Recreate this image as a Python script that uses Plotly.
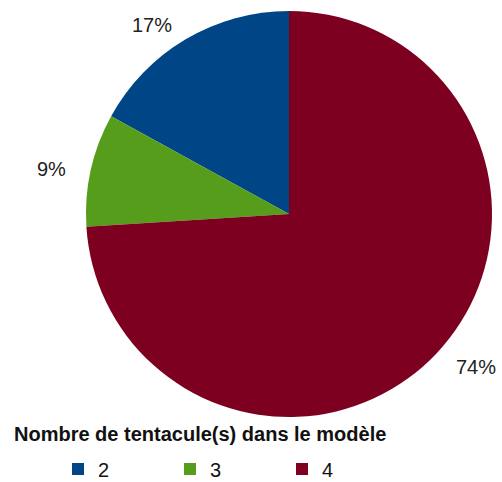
import math
import plotly.graph_objects as go

categories = ["2", "3", "4"]
values = [17, 9, 74]
colors = ["#004586", "#579D1C", "#7E0021"]
legend_title = "Nombre de tentacule(s) dans le modèle"

W, H = 502, 482
cx, cy, r = 289, 214, 203
FONT = "Liberation Sans, Arial, sans-serif"
total = sum(values)

fig = go.Figure(go.Pie(
    labels=categories,
    values=values,
    marker=dict(colors=colors, line=dict(width=0)),
    sort=False,
    direction="counterclockwise",
    # first slice ends at 12 o'clock, later slices continue counterclockwise
    rotation=-360 * values[0] / total,
    textinfo="none",
    hoverinfo="label+percent",
    domain=dict(x=[(cx - r) / W, (cx + r) / W], y=[1 - (cy + r) / H, 1 - (cy - r) / H]),
))

# percentage labels placed outside each slice (slices run counterclockwise from 12 o'clock)
cum = 0
annotations = []
rx, ry = 226, 204
for v in values:
    theta = 2 * math.pi * (cum + v / 2) / total
    cum += v
    s, c = math.sin(theta), math.cos(theta)
    px = cx - rx * s
    py = cy - ry * c
    xa = "right" if s > 0.3 else ("left" if s < -0.3 else "center")
    ya = "bottom" if c > 0.3 else ("top" if c < -0.3 else "middle")
    annotations.append(dict(
        x=px / W, y=1 - py / H, xref="paper", yref="paper",
        text=f"{round(100 * v / total)}%", showarrow=False,
        xanchor=xa, yanchor=ya,
        font=dict(family=FONT, size=20, color="#222222"),
    ))

annotations.append(dict(
    x=12 / W, y=1 - 434 / H, xref="paper", yref="paper",
    text=f"<b>{legend_title}</b>", showarrow=False,
    xanchor="left", yanchor="middle",
    font=dict(family=FONT, size=20, color="#111111"),
))

fig.update_layout(
    width=W, height=H,
    margin=dict(l=0, r=0, t=0, b=0, autoexpand=False),
    paper_bgcolor="white",
    plot_bgcolor="white",
    annotations=annotations,
    showlegend=True,
    legend=dict(
        orientation="h",
        x=58 / W, xanchor="left",
        y=1 - 469 / H, yanchor="middle",
        entrywidth=67, entrywidthmode="pixels",
        font=dict(family=FONT, size=20, color="#111111"),
        bgcolor="rgba(0,0,0,0)",
    ),
)

fig.write_html(
    "out.html",
    config={"displayModeBar": False},
    post_script="document.body.style.margin='0';document.body.style.overflow='hidden';",
)
